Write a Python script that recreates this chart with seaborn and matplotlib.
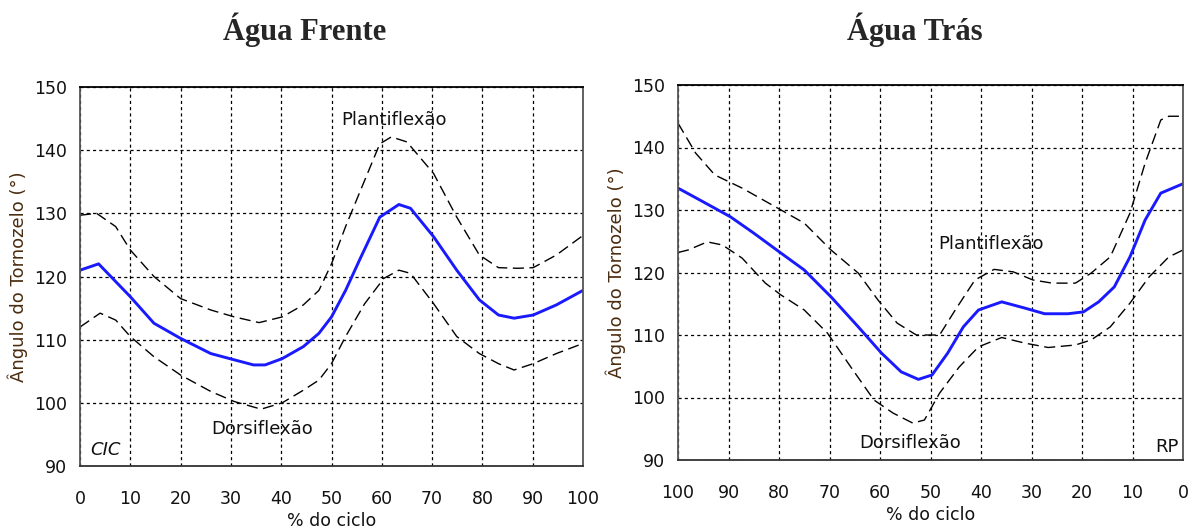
import numpy as np
import pandas as pd
import matplotlib
matplotlib.use("Agg")
import matplotlib.pyplot as plt
import seaborn as sns
from matplotlib.ticker import MultipleLocator

# ---------------- data ----------------
titles = ["Água Frente", "Água Trás"]
ylabel = "Ângulo do Tornozelo (°)"
xlabel = "% do ciclo"

# Água Frente (left)
fr_mean_x = [0, 3.7, 10, 14.7, 20, 26, 30.7, 34.5, 36.8, 40.2, 44.4, 47.5, 50, 52.8, 55.8, 59.6, 63.4, 65.7, 70.3, 74.9, 79.4, 83.2, 86.3, 90.1, 94.7, 100]
fr_mean_y = [121, 122, 116.8, 112.6, 110.2, 107.8, 106.8, 106.0, 106.0, 107.0, 108.9, 111.0, 113.6, 117.8, 123.0, 129.4, 131.4, 130.8, 126.3, 121.0, 116.3, 113.9, 113.4, 113.9, 115.5, 117.8]
fr_up_x = [0, 3.3, 7.1, 10, 14.7, 20, 26, 30.7, 35.6, 40.2, 44.4, 47.5, 50, 52.8, 55.8, 59.6, 61.9, 65, 70.3, 74.9, 79.4, 83.2, 87, 90.1, 94.7, 100]
fr_up_y = [129.7, 130, 127.9, 124.2, 120, 116.5, 114.7, 113.6, 112.7, 113.6, 115.5, 117.8, 122, 127.9, 133.7, 141, 142.1, 141.3, 136.3, 129.4, 123.4, 121.4, 121.3, 121.4, 123.4, 126.5]
fr_lo_x = [0, 4, 7.1, 10, 14.7, 20, 26, 30.7, 36, 40.2, 44.4, 47.5, 50, 52.8, 56.6, 60.4, 63.4, 65.7, 70.3, 74.9, 79.4, 83.2, 86.3, 90.1, 94.7, 100]
fr_lo_y = [112.0, 114.2, 113.1, 110.5, 107.3, 104.4, 101.8, 100.2, 99.0, 100.0, 102.0, 103.6, 106.2, 110.5, 115.7, 119.7, 121.0, 120.5, 115.7, 110.5, 107.8, 106.2, 105.2, 106.2, 107.8, 109.4]

# Água Trás (right, reversed axis)
tr_mean_x = [100, 95, 89.6, 85, 79.6, 75, 69.7, 64.3, 59.7, 55.8, 52.4, 49.7, 46.6, 43.5, 40.5, 35.9, 31.3, 27.4, 22.8, 19.7, 16.7, 13.6, 10.5, 7.5, 4.4, 0]
tr_mean_y = [133.5, 131.3, 128.9, 126.3, 123.1, 120.4, 116.1, 111.3, 107.1, 104.1, 102.9, 103.6, 107.1, 111.3, 114.0, 115.3, 114.3, 113.4, 113.4, 113.7, 115.3, 117.7, 122.5, 128.4, 132.7, 134.2]
tr_up_x = [100, 96.5, 92.7, 87.3, 79.6, 75, 69.7, 64.3, 60.4, 56.6, 52.8, 48.2, 45.1, 41.2, 37.4, 33.6, 29.7, 25.9, 21.3, 18.2, 14.4, 10.5, 7.5, 4.4, 2.8, 0]
tr_up_y = [143.9, 139.1, 135.6, 133.5, 130.0, 127.9, 123.6, 119.9, 115.6, 111.9, 110.0, 110.0, 114.0, 118.8, 120.5, 120.1, 118.8, 118.3, 118.3, 119.9, 122.5, 129.5, 137.5, 144.4, 145.0, 145.0]
tr_lo_x = [100, 98, 94.2, 91.2, 87.3, 82.7, 79.6, 75, 70.4, 65.8, 61.2, 57.4, 53.5, 51.2, 48.2, 44.3, 40.5, 35.9, 31.3, 26.7, 21.3, 18.2, 14.4, 10.5, 6.7, 2.8, 0]
tr_lo_y = [123.2, 123.6, 124.9, 124.4, 122.3, 118.3, 116.4, 114.0, 110.3, 104.9, 99.6, 97.5, 95.9, 96.4, 100.7, 104.9, 108.1, 109.6, 108.7, 108.0, 108.4, 109.2, 111.3, 115.1, 119.3, 122.5, 123.6]

yticks = [90, 100, 110, 120, 130, 140, 150]
xticks = [0, 10, 20, 30, 40, 50, 60, 70, 80, 90, 100]

# ---------------- style ----------------
sns.set_style("white")
plt.rcParams["font.family"] = ["DejaVu Sans"]

fig = plt.figure(figsize=(11.96, 5.29), dpi=100)
ax1 = fig.add_axes([80/1196, 1-466/529, 503/1196, 379/529])
ax2 = fig.add_axes([678/1196, 1-460/529, 505/1196, 375/529])

label_color = "#4a2c10"
txt = "#111111"

def draw(ax, mx, my, ux, uy, lx, ly, reverse):
    sns.lineplot(x=ux, y=uy, ax=ax, color="black", lw=1.0, linestyle=(0, (8, 4)), sort=False)
    sns.lineplot(x=lx, y=ly, ax=ax, color="black", lw=1.0, linestyle=(0, (8, 4)), sort=False)
    sns.lineplot(x=mx, y=my, ax=ax, color="#1a1aff", lw=2.1, sort=False)
    ax.set_ylim(90, 150)
    if reverse:
        ax.set_xlim(100, 0)
    else:
        ax.set_xlim(0, 100)
    ax.set_xticks(xticks)
    ax.set_yticks(yticks)
    ax.xaxis.set_minor_locator(MultipleLocator(5))
    ax.yaxis.set_minor_locator(MultipleLocator(5))
    ax.tick_params(which="both", direction="out", color="#444444", width=1.0)
    ax.tick_params(which="major", length=6, labelsize=12.5, labelcolor=txt)
    ax.tick_params(which="minor", length=4)
    ax.tick_params(axis="x", pad=11)
    ax.tick_params(axis="y", pad=3)
    ax.grid(True, which="major", color="black", linestyle=(0, (2.5, 2.5)), lw=0.9)
    for s in ax.spines.values():
        s.set_visible(True)
        s.set_color("#555555")
        s.set_linewidth(1.3)
    ax.spines["top"].set_color("black")
    ax.spines["bottom"].set_color("#333333")
    ax.set_xlabel(xlabel, fontsize=12.5, color=txt, labelpad=3)
    ax.set_ylabel(ylabel, fontsize=13, color=label_color, labelpad=5)

draw(ax1, fr_mean_x, fr_mean_y, fr_up_x, fr_up_y, fr_lo_x, fr_lo_y, False)
draw(ax2, tr_mean_x, tr_mean_y, tr_up_x, tr_up_y, tr_lo_x, tr_lo_y, True)

# annotations
fs = 13
ax1.text(62.5, 144.7, "Plantiflexão", ha="center", va="center", fontsize=fs, color=txt)
ax1.text(36.2, 95.8, "Dorsiflexão", ha="center", va="center", fontsize=fs, color=txt)
ax1.text(2.0, 92.5, "CIC", ha="left", va="center", fontsize=fs, style="italic", color=txt)
ax2.text(38.0, 124.6, "Plantiflexão", ha="center", va="center", fontsize=fs, color=txt)
ax2.text(54.0, 92.8, "Dorsiflexão", ha="center", va="center", fontsize=fs, color=txt)
ax2.text(0.9, 92.1, "RP", ha="right", va="center", fontsize=fs, color=txt)

# titles
fig.text(305/1196, 1-30/529, titles[0], ha="center", va="center", fontsize=22,
         fontweight="bold", family=["Liberation Serif", "DejaVu Serif"])
fig.text(915/1196, 1-30/529, titles[1], ha="center", va="center", fontsize=22,
         fontweight="bold", family=["Liberation Serif", "DejaVu Serif"])

fig.savefig("out.png", dpi=100)
